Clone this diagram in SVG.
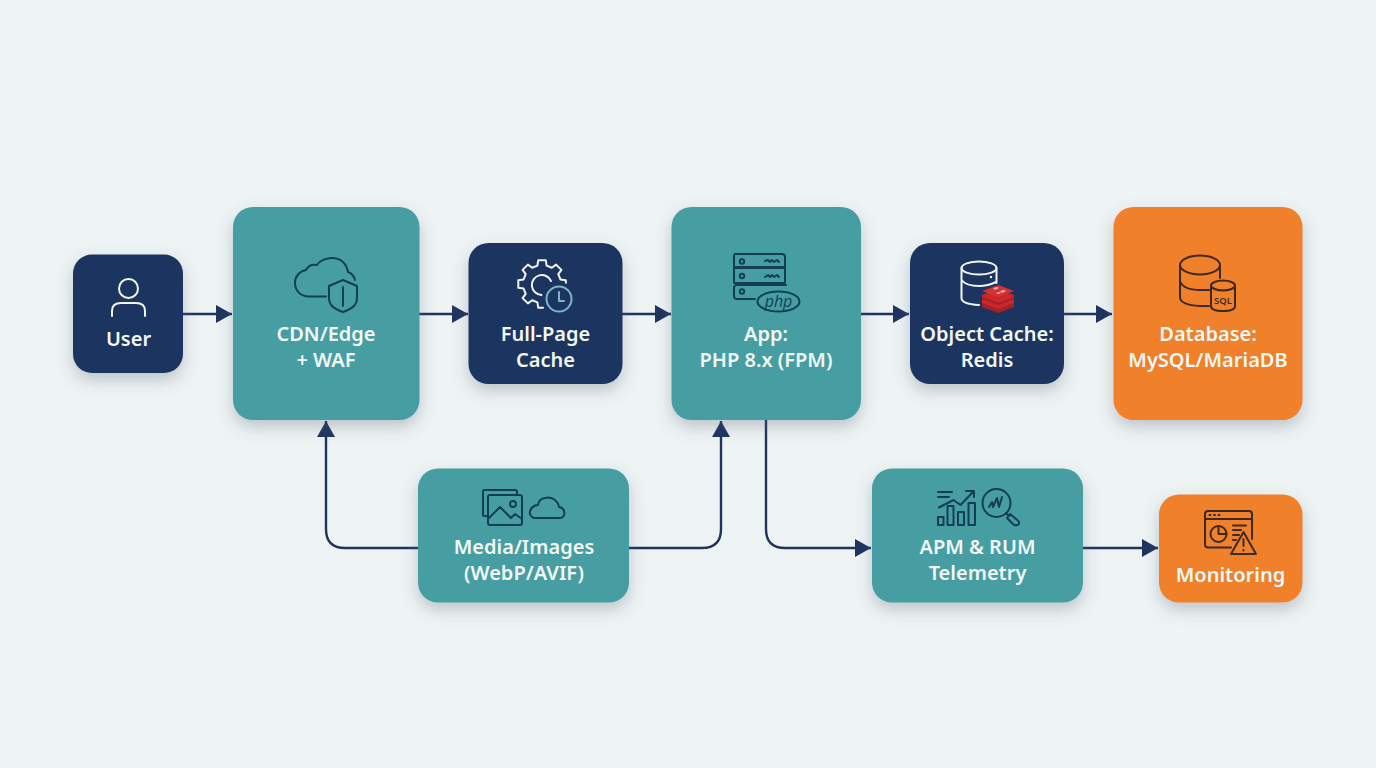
<svg xmlns="http://www.w3.org/2000/svg" width="1376" height="768" viewBox="0 0 1376 768">
<style>
.navy{fill:#1f3460}.teal{fill:#479ea2}.orange{fill:#f08029}
.t{font-family:"Noto Sans","Liberation Sans",sans-serif;font-weight:600;font-size:20px;text-anchor:middle;fill:#f2f8f6}
.c{fill:none;stroke:#1f3460;stroke-width:2.4}
.i{fill:none;stroke-width:2;stroke-linecap:round;stroke-linejoin:round}
.dk{stroke:#123f54}.wh{stroke:#f0f5f5}.br{stroke:#3d2a1c}
</style>
<defs>
<filter id="s" x="-30%" y="-30%" width="160%" height="170%"><feDropShadow dx="0" dy="7" stdDeviation="8" flood-color="#4a5a68" flood-opacity=".3"/></filter>
<marker id="a" markerUnits="userSpaceOnUse" markerWidth="17" markerHeight="18" refX="16" refY="9" orient="auto"><path d="M0 0L16 9L0 18Z" fill="#1f3460"/></marker>
</defs>
<rect width="1376" height="768" fill="#eef3f4"/>
<g id="connectors">
<path class="c" marker-end="url(#a)" d="M183 314H232"/>
<path class="c" marker-end="url(#a)" d="M419 314H468"/>
<path class="c" marker-end="url(#a)" d="M622 314H671"/>
<path class="c" marker-end="url(#a)" d="M861 314H909"/>
<path class="c" marker-end="url(#a)" d="M1064 314H1112"/>
<path class="c" marker-end="url(#a)" d="M418 548H345Q326 548 326 529V421"/>
<path class="c" marker-end="url(#a)" d="M629 548H702Q721 548 721 529V421"/>
<path class="c" marker-end="url(#a)" d="M766 420V529Q766 548 785 548H871"/>
<path class="c" marker-end="url(#a)" d="M1083 548H1158"/>
</g>
<g id="user">
<rect class="navy" x="73" y="254.500" width="110" height="118.500" rx="19" filter="url(#s)"/>
<circle class="i wh" cx="128.500" cy="288.500" r="9.500"/>
<path class="i wh" d="M112 316V311Q112 303 121 303H136Q145 303 145 311V316"/>
<text class="t" x="128.500" y="346">User</text>
</g>
<g id="cdn-edge-waf">
<rect class="teal" x="233" y="207" width="186.500" height="213" rx="20" filter="url(#s)"/>
<path class="i dk" d="M326 296.500H309C300 296.500 295 290 295 283C295 276 300 271 306 270C308 266 312 264 317 265C320 260 327 258 332 258C342 258 347 265 348 272C351 273 354 276 355 280"/>
<path class="i dk" d="M343 280L357 286V298C357 306 351 309 343 312C335 309 329 306 329 298V286Z"/>
<path class="i dk" d="M343 287V306"/>
<text class="t" x="326" y="341">CDN/Edge</text>
<text class="t" x="326" y="367">+ WAF</text>
</g>
<g id="full-page-cache">
<rect class="navy" x="468.500" y="243" width="154" height="141" rx="20" filter="url(#s)"/>
<path class="i wh" d="M566 282.700L565.700 280.200L560.400 279.400L558.300 274.200L561.400 269.900L556.100 264.600L551.800 267.700L546.600 265.600L545.800 260.300H538.200L537.400 265.600L532.200 267.700L527.900 264.600L522.600 269.900L525.700 274.200L523.600 279.400L518.300 280.200V287.800L523.600 288.600L525.700 293.800L522.600 298.100L527.900 303.400L532.200 300.300L537.400 302.400L538.200 307.700H543"/>
<path class="i wh" d="M551 281A10 10 0 1 0 541.500 295"/>
<circle class="i" cx="559" cy="299" r="12.500" stroke="#7fb6c4" stroke-width="2.200"/>
<path class="i" d="M559 292V301H564" stroke="#7fb6c4"/>
<text class="t" x="545.500" y="341">Full-Page</text>
<text class="t" x="545.500" y="367">Cache</text>
</g>
<g id="app-php">
<rect class="teal" x="671.500" y="207" width="189.500" height="213" rx="20" filter="url(#s)"/>
<path class="i dk" d="M735 254H782Q785 254 785 257V267H734V257Q734 254 735 254ZM734 268H785V283H734ZM786 285H737Q734 285 734 288V296Q734 299 737 299H755"/>
<circle class="i dk" cx="742" cy="261.500" r="2.200"/><circle class="i dk" cx="742" cy="276" r="2.200"/><circle class="i dk" cx="742" cy="291.500" r="2.200"/>
<path class="i dk" stroke-width="1.300" d="M765 261l3-1 2 2 2-2 2 2 3-2 2 2M765 277l3-2 2 2 2-2 2 2 3-2 2 2"/>
<ellipse class="i dk" cx="778.500" cy="301.500" rx="21" ry="10"/>
<text x="778.500" y="306.500" font-family="'Open Sans','Noto Sans',sans-serif" font-style="italic" font-size="16" font-weight="500" text-anchor="middle" fill="#123f54">php</text>
<text class="t" x="766" y="341">App:</text>
<text class="t" x="766" y="367">PHP 8.x (FPM)</text>
</g>
<g id="object-cache-redis">
<rect class="navy" x="910" y="243" width="154" height="141" rx="20" filter="url(#s)"/>
<ellipse class="i wh" cx="979" cy="268" rx="17.500" ry="6.500"/>
<path class="i wh" d="M961.500 268V298Q961.500 304 979 305M961.500 280Q966 286 979 286Q988 286 996 282M996.500 268V283"/>
<circle cx="991" cy="277" r="1.200" fill="#f0f5f5"/>
<path fill="#a81f26" d="M982 302L998.500 296L1014 302V307L998.500 313L982 307Z"/>
<path fill="#c7292c" d="M982 300L998.500 294L1014 300V303L998.500 309L982 303Z"/>
<path fill="#a81f26" d="M982 296L998.500 290L1014 296V299L998.500 305L982 299Z"/>
<path fill="#c7292c" d="M982 295L998.500 289L1014 295V297L998.500 303L982 297Z"/>
<path fill="#d63131" d="M982 291L998.500 285L1014 291L998.500 297Z"/>
<path fill="#f3b5b0" d="M993 288l4-1 2 1-4 2zM1000 291l4-1 2 1-4 2zM996 293l3-1 2 1-3 1z"/>
<text class="t" x="987" y="341">Object Cache:</text>
<text class="t" x="987" y="367">Redis</text>
</g>
<g id="database">
<rect class="orange" x="1113.500" y="207" width="189" height="213" rx="20" filter="url(#s)"/>
<ellipse class="i br" cx="1200" cy="265" rx="20" ry="9.500"/>
<path class="i br" d="M1180 265V297Q1180 305 1200 306H1209M1180 281Q1183 290 1200 290H1209M1220 265V278"/>
<ellipse class="i br" cx="1223" cy="285.500" rx="12" ry="5"/>
<path class="i br" d="M1211 285.500V306Q1211 311 1223 311Q1235 311 1235 306V285.500"/>
<text x="1223" y="304" font-family="'Noto Sans',sans-serif" font-weight="600" font-size="9.500" text-anchor="middle" fill="#3d2a1c">SQL</text>
<text class="t" x="1208" y="341">Database:</text>
<text class="t" x="1208" y="367">MySQL/MariaDB</text>
</g>
<g id="media-images">
<rect class="teal" x="418" y="468.500" width="211" height="134" rx="20" filter="url(#s)"/>
<path class="i dk" d="M488 516H484Q483 516 483 514V491Q483 490 485 490H515Q517 490 517 492V495"/>
<rect class="i dk" x="488" y="495" width="34" height="30" rx="2"/>
<path class="i dk" d="M489 518L500 507L511 518L515 514L522 519"/>
<circle class="i dk" cx="513" cy="504" r="3"/>
<path class="i dk" d="M535 518H560C566 518 566 508 559 507C558 501 552 496 545 498C541 498 538 502 538 505C533 505 529 510 530 514C531 517 533 518 535 518Z"/>
<text class="t" x="524" y="554">Media/Images</text>
<text class="t" x="524" y="580">(WebP/AVIF)</text>
</g>
<g id="apm-rum-telemetry">
<rect class="teal" x="872" y="468.500" width="211" height="134" rx="20" filter="url(#s)"/>
<path class="i dk" d="M938 492H952M938 497H949M939 507.500L953.500 500L960.500 505L974 491M966 491H974V497"/>
<path class="i dk" d="M938 517H943.500V525H938ZM947.500 506H953.500V525H947.500ZM958 512H964V525H958ZM968.500 503H975V525H968.500Z"/>
<circle class="i dk" cx="996.500" cy="503" r="14"/>
<path class="i dk" stroke-width="1.400" d="M989 507L992 502L993 507L997 498L999 507L1002 497"/>
<path class="i dk" d="M1006 513L1009 516"/>
<path class="i dk" d="M1010 514L1018.500 521Q1020 525 1017 525Q1015 526 1013 524L1007 518Z"/>
<text class="t" x="977.500" y="554">APM &amp; RUM</text>
<text class="t" x="977.500" y="580">Telemetry</text>
</g>
<g id="monitoring">
<rect class="orange" x="1159" y="494.500" width="143.500" height="108" rx="20" filter="url(#s)"/>
<path class="i br" d="M1231 547.500H1208Q1205 547.500 1205 544.500V514Q1205 511 1208 511H1249Q1252 511 1252 514V539M1205 519H1252"/>
<path class="i br" stroke-width="1.800" d="M1209.500 515H1210.500M1214 515H1215M1218.500 515H1219.500M1233 525.500H1246M1233 530H1241M1233 535H1239M1233 540H1236"/>
<circle class="i br" cx="1218.500" cy="534" r="8"/>
<path class="i br" d="M1218.500 526V534H1226.500"/>
<path class="i br" d="M1243.500 532L1256 554H1231Z"/>
<path class="i br" d="M1243.500 539V546M1243.500 550V550.500"/>
<text class="t" x="1230.500" y="582">Monitoring</text>
</g>
</svg>
